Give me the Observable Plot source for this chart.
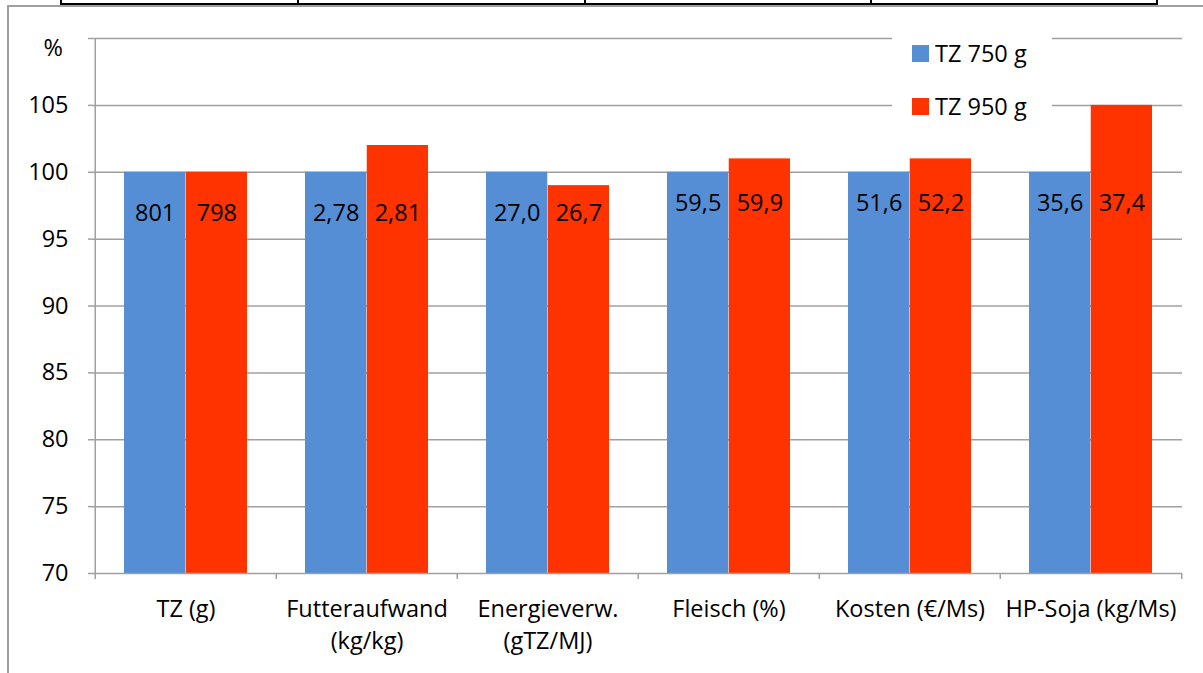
<!DOCTYPE html>
<html>
<head>
<meta charset="utf-8">
<script src="https://cdn.jsdelivr.net/npm/d3@7"></script>
<script src="https://cdn.jsdelivr.net/npm/@observablehq/plot@0.6"></script>
<style>
  html, body { margin: 0; padding: 0; background: #fff; }
  #page { position: relative; width: 1203px; height: 673px; overflow: hidden; font-family: "Open Sans", sans-serif; }
  #page svg { position: absolute; left: 0; top: 0; }
  .line { position: absolute; }
  #legend { position: absolute; left: 892px; top: 30px; width: 160px; height: 92px; background: #fff; font-size: 23.5px; color: #000; }
  .item { position: absolute; left: 20px; display: flex; align-items: center; height: 26px; white-space: nowrap; }
  .swatch { width: 17px; height: 17px; margin-right: 6px; }
</style>
</head>
<body>
<div id="page"></div>
<script>
// Categories (x axis), series names, relative values (%) and absolute values shown on the bars
const categories = ["TZ (g)", "Futteraufwand\n(kg/kg)", "Energieverw.\n(gTZ/MJ)", "Fleisch (%)", "Kosten (€/Ms)", "HP-Soja (kg/Ms)"];
const seriesNames = ["TZ 750 g", "TZ 950 g"];
const seriesColors = ["#558ed5", "#ff3300"];
const relTZ750 = [100, 100, 100, 100, 100, 100];
const relTZ950 = [100, 102, 99, 101, 101, 105];
const absTZ750 = ["801", "2,78", "27,0", "59,5", "51,6", "35,6"];
const absTZ950 = ["798", "2,81", "26,7", "59,9", "52,2", "37,4"];
const yTicks = [70, 75, 80, 85, 90, 95, 100, 105, 110];
const yUnit = "%";

const W = 1203, H = 673;
const mLeft = 93, mRight = 21, mTop = 38, mBottom = 100;
const band = (W - mLeft - mRight) / categories.length;
const outer = 29;            // gap between band edge and first/last bar
const half = band / 2;
const barW = half - outer;
const grid = "#a0a0a0";
const font = 23.5;
const yMax = yTicks[yTicks.length - 1];

const rows = categories.flatMap((c, i) => [
  {cat: c, series: seriesNames[0], value: relTZ750[i], label: absTZ750[i], i},
  {cat: c, series: seriesNames[1], value: relTZ950[i], label: absTZ950[i], i}
]);
const blue = rows.filter(d => d.series === seriesNames[0]);
const red = rows.filter(d => d.series === seriesNames[1]);
// value labels sit at a common height inside the bars
const labelY = d => d.i < 3 ? 96.9 : 97.7;

const chart = Plot.plot({
  width: W, height: H,
  marginLeft: mLeft, marginRight: mRight, marginTop: mTop, marginBottom: mBottom,
  style: {fontFamily: "'Open Sans', sans-serif", fontSize: font + "px", color: "#000", background: "transparent"},
  x: {domain: categories, padding: 0, axis: null},
  y: {domain: [70, yMax], axis: null},
  marks: [
    Plot.ruleY(yTicks.filter(t => t > 70), {y: d => d, stroke: grid, strokeWidth: 1.5}),
    Plot.barY(blue, {x: "cat", y1: 70, y2: "value", fill: seriesColors[0], insetLeft: outer, insetRight: half}),
    Plot.barY(red, {x: "cat", y1: 70, y2: "value", fill: seriesColors[1], insetLeft: half, insetRight: outer}),
    Plot.text(blue, {x: "cat", y: labelY, text: "label", dx: -barW / 2, fill: "#000", fontSize: font}),
    Plot.text(red, {x: "cat", y: labelY, text: "label", dx: barW / 2, fill: "#000", fontSize: font}),
    // axes
    Plot.ruleX([0], {x: () => categories[0], dx: -half, y1: 70, y2: yMax, stroke: grid, strokeWidth: 1.5}),
    Plot.ruleY([70], {stroke: grid, strokeWidth: 1.5}),
    Plot.axisY({ticks: yTicks, tickFormat: d => d === yMax ? "" : String(d), tickSize: 5, tickPadding: 20,
                stroke: grid, strokeWidth: 1.5, fontSize: font, fill: "#000", label: null}),
    // unit label at the top of the value axis
    Plot.text([yUnit], {x: () => categories[0], y: yMax, text: d => d, dx: -half - 42, dy: 10, fill: "#000", fontSize: font}),
    // category boundary ticks
    Plot.ruleX(categories, {x: d => d, dx: -half, y1: 70, y2: 70, insetBottom: -6, stroke: grid, strokeWidth: 1.5}),
    Plot.ruleX([categories[categories.length - 1]], {x: d => d, dx: half, y1: 70, y2: 70, insetBottom: -6, stroke: grid, strokeWidth: 1.5}),
    Plot.text(categories, {x: d => d, y: 70, text: d => d, dy: 21, lineAnchor: "top", lineHeight: 1.36, fill: "#000", fontSize: font})
  ]
});

const page = document.getElementById("page");
page.appendChild(chart);

// surrounding frame lines
function line(l, t, w, h, c) {
  const d = document.createElement("div");
  d.className = "line";
  Object.assign(d.style, {left: l + "px", top: t + "px", width: w + "px", height: h + "px", background: c});
  page.appendChild(d);
}
line(60, 3, 1098, 2, "#000");
[60, 297, 584, 870, 1156].forEach(x => line(x, 0, 2, 4, "#000"));
line(7, 5, W - 7, 2, "#a0a0a0");
line(7, 5, 2, H - 5, "#a0a0a0");

// legend
const legend = document.createElement("div");
legend.id = "legend";
seriesNames.forEach((name, k) => {
  const it = document.createElement("div");
  it.className = "item";
  it.style.top = (10 + k * 53) + "px";
  const sw = document.createElement("div");
  sw.className = "swatch";
  sw.style.background = seriesColors[k];
  const tx = document.createElement("span");
  tx.textContent = name;
  it.appendChild(sw); it.appendChild(tx);
  legend.appendChild(it);
});
page.appendChild(legend);
</script>
</body>
</html>
